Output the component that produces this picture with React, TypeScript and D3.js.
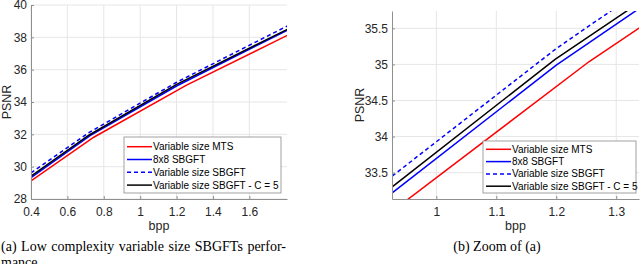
import React, { useRef, useEffect } from "react";
import * as d3 from "d3";

// series (legend order)
const seriesNames = [
  "Variable size MTS",
  "8x8 SBGFT",
  "Variable size SBGFT",
  "Variable size SBGFT - C = 5",
];
const seriesColors = ["#ff0000", "#0000ff", "#0000ff", "#000000"];
const seriesDash = ["", "", "4,3", ""];

// bpp / PSNR points
const mtsBpp = [0.4, 0.745, 1.255, 1.81];
const mtsPsnr = [29.12, 31.82, 35.04, 38.13];
const sbgftBpp = [0.4, 0.725, 1.2, 1.81];
const sbgftPsnr = [29.32, 31.92, 34.99, 38.45];
const varBpp = [0.4, 0.72, 1.2, 1.81];
const varPsnr = [29.62, 32.12, 35.22, 38.71];
const c5Bpp = [0.4, 0.72, 1.198, 1.81];
const c5Psnr = [29.42, 31.96, 35.07, 38.5];

const allBpp = [mtsBpp, sbgftBpp, varBpp, c5Bpp];
const allPsnr = [mtsPsnr, sbgftPsnr, varPsnr, c5Psnr];

// axes
const fullXDomain = [0.4, 1.807];
const fullYDomain = [28, 40];
const fullXTicks = [0.4, 0.6, 0.8, 1, 1.2, 1.4, 1.6];
const fullYTicks = [28, 30, 32, 34, 36, 38, 40];

const zoomXDomain = [0.926, 1.338];
const zoomYDomain = [33.135, 35.74];
const zoomXTicks = [1, 1.1, 1.2, 1.3];
const zoomYTicks = [33.5, 34, 34.5, 35, 35.5];

const captionA = ["(a)", "Low", "complexity", "variable", "size", "SBGFTs", "perfor-"];

const sans = "'Liberation Sans', Arial, Helvetica, sans-serif";
const serif = "'Liberation Serif', 'Times New Roman', serif";

function drawPanel(svg: any, o: any) {
  const x = d3.scaleLinear().domain(o.xDomain).range([o.left, o.right]);
  const y = d3.scaleLinear().domain(o.yDomain).range([o.bottom, o.top]);
  const g = svg.append("g");

  // grid
  g.append("g")
    .selectAll("line")
    .data(o.xTicks)
    .join("line")
    .attr("x1", (d: number) => x(d))
    .attr("x2", (d: number) => x(d))
    .attr("y1", o.top)
    .attr("y2", o.bottom)
    .attr("stroke", "#e6e6e6");
  g.append("g")
    .selectAll("line")
    .data(o.yTicks)
    .join("line")
    .attr("x1", o.left)
    .attr("x2", o.right)
    .attr("y1", (d: number) => y(d))
    .attr("y2", (d: number) => y(d))
    .attr("stroke", "#e6e6e6");

  // clip for data
  svg.append("clipPath")
    .attr("id", o.clipId)
    .append("rect")
    .attr("x", o.left)
    .attr("y", o.top)
    .attr("width", o.right - o.left)
    .attr("height", o.bottom - o.top);

  const line = d3.line<[number, number]>()
    .x((d) => x(d[0]))
    .y((d) => y(d[1]));

  g.append("g")
    .attr("clip-path", `url(#${o.clipId})`)
    .selectAll("path")
    .data(seriesNames.map((n, i) => allBpp[i].map((b, j) => [b, allPsnr[i][j]] as [number, number])))
    .join("path")
    .attr("d", (d: any) => line(d))
    .attr("fill", "none")
    .attr("stroke", (d: any, i: number) => seriesColors[i])
    .attr("stroke-dasharray", (d: any, i: number) => seriesDash[i] || null)
    .attr("stroke-width", 1.5);

  // axes
  const xAxis = g.append("g")
    .attr("transform", `translate(0,${o.bottom})`)
    .call(d3.axisBottom(x).tickValues(o.xTicks).tickSize(-3).tickSizeOuter(0).tickPadding(8).tickFormat((d: any) => String(d)));
  const yAxis = g.append("g")
    .attr("transform", `translate(${o.left},0)`)
    .call(d3.axisLeft(y).tickValues(o.yTicks).tickSize(-3).tickSizeOuter(0).tickPadding(4).tickFormat((d: any) => String(d)));
  [xAxis, yAxis].forEach((a) => {
    a.select(".domain").attr("stroke", "#8f8f8f");
    a.selectAll(".tick line").attr("stroke", "#8f8f8f");
    a.selectAll("text").attr("fill", "#262626").attr("font-size", 12).attr("font-family", sans);
  });

  // axis labels
  g.append("text")
    .attr("x", (o.left + o.right) / 2)
    .attr("y", 230)
    .attr("text-anchor", "middle")
    .attr("font-family", sans)
    .attr("font-size", 12.5)
    .attr("fill", "#262626")
    .text("bpp");
  g.append("text")
    .attr("transform", `translate(${o.yLabelX},${(o.top + o.bottom) / 2}) rotate(-90)`)
    .attr("text-anchor", "middle")
    .attr("font-family", sans)
    .attr("font-size", 12.5)
    .attr("fill", "#262626")
    .text("PSNR");

  // legend
  const lg = g.append("g").attr("transform", `translate(${o.legend.x},${o.legend.y})`);
  lg.append("rect")
    .attr("width", o.legend.w)
    .attr("height", o.legend.h)
    .attr("fill", "#fff")
    .attr("stroke", "#8a8a8a")
    .attr("stroke-width", 0.8);
  const row = lg.selectAll("g.row")
    .data(seriesNames)
    .join("g")
    .attr("class", "row")
    .attr("transform", (d: string, i: number) => `translate(0,${o.legend.first + i * o.legend.step})`);
  row.append("line")
    .attr("x1", 3)
    .attr("x2", 28)
    .attr("stroke", (d: string, i: number) => seriesColors[i])
    .attr("stroke-dasharray", (d: string, i: number) => seriesDash[i] || null)
    .attr("stroke-width", 1.5);
  row.append("text")
    .attr("x", 29)
    .attr("dy", "0.35em")
    .attr("font-family", sans)
    .attr("font-size", 10)
    .attr("fill", "#000")
    .text((d: string) => d);
}

export default function App() {
  const svgRef = useRef<SVGSVGElement>(null);

  useEffect(() => {
    const svg = d3.select(svgRef.current);
    svg.selectAll("*").remove();

    drawPanel(svg, {
      left: 31, right: 287, top: 5, bottom: 199,
      xDomain: fullXDomain, yDomain: fullYDomain,
      xTicks: fullXTicks, yTicks: fullYTicks,
      yLabelX: 11, clipId: "clipFull",
      legend: { x: 124, y: 137, w: 157, h: 56, first: 9.7, step: 12.8 },
    });
    drawPanel(svg, {
      left: 392, right: 639, top: 11, bottom: 199,
      xDomain: zoomXDomain, yDomain: zoomYDomain,
      xTicks: zoomXTicks, yTicks: zoomYTicks,
      yLabelX: 364, clipId: "clipZoom",
      legend: { x: 483, y: 141, w: 153, h: 52, first: 8.3, step: 12.3 },
    });

    // caption (a): first line justified to the column width
    const capG = svg.append("g")
      .attr("font-family", serif)
      .attr("font-size", 14)
      .attr("fill", "#000");
    const words = capG.selectAll("text.w")
      .data(captionA)
      .join("text")
      .attr("class", "w")
      .attr("y", 251)
      .text((d: string) => d);
    const widths: number[] = [];
    words.each(function (this: SVGTextElement) {
      widths.push(this.getComputedTextLength());
    });
    const gap = (286 - 1 - d3.sum(widths)) / (captionA.length - 1);
    let cx = 1;
    words.attr("x", (d: string, i: number) => {
      const px = cx;
      cx += widths[i] + gap;
      return px;
    });
    capG.append("text")
      .attr("x", 1)
      .attr("y", 267)
      .text("mance");

    svg.append("text")
      .attr("x", 497)
      .attr("y", 251)
      .attr("text-anchor", "middle")
      .attr("font-family", serif)
      .attr("font-size", 14)
      .attr("fill", "#000")
      .text("(b) Zoom of (a)");
  }, []);

  return (
    <svg
      ref={svgRef}
      width={640}
      height={264}
      style={{ position: "absolute", left: 0, top: 0, background: "#fff" }}
    />
  );
}
